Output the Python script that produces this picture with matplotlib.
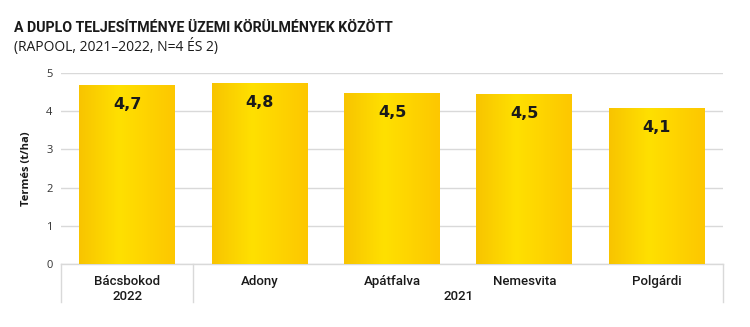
import matplotlib
matplotlib.use("Agg")
import matplotlib.pyplot as plt
import numpy as np
from matplotlib.colors import LinearSegmentedColormap

# Data
categories = ["Bácsbokod", "Adony", "Apátfalva", "Nemesvita", "Polgárdi"]
values = [4.69, 4.74, 4.48, 4.46, 4.08]
value_labels = ["4,7", "4,8", "4,5", "4,5", "4,1"]
groups = ["2022", "2021"]
group_sizes = [1, 4]
yticks = [0, 1, 2, 3, 4, 5]

title = "A DUPLO TELJESÍTMÉNYE ÜZEMI KÖRÜLMÉNYEK KÖZÖTT"
subtitle = "(RAPOOL, 2021–2022, N=4 ÉS 2)"
ylabel = "Termés (t/ha)"

fig = plt.figure(figsize=(7.5, 3.27), dpi=100)
ax = fig.add_axes([61/750, 1-264/327, (723-61)/750, (264-73)/327])

x = np.arange(len(categories))
bw = 0.725
bars = ax.bar(x, values, width=bw, color="#FFD800", zorder=2, linewidth=0)

cmap = LinearSegmentedColormap.from_list(
    "gold", [(0.0, "#F8C400"), (0.42, "#FFE000"), (1.0, "#FDC700")])
grad = np.linspace(0, 1, 256).reshape(1, -1)
for b in bars:
    x0 = b.get_x(); w = b.get_width(); h = b.get_height()
    im = ax.imshow(grad, cmap=cmap, aspect="auto",
                   extent=[x0, x0 + w, 0, h], zorder=3, interpolation="bicubic")
    im.set_clip_path(b)

for xi, v, lab in zip(x, values, value_labels):
    ax.annotate(lab, (xi, v), xytext=(0, -14), textcoords="offset points",
                ha="center", va="center", fontsize=11.5, fontweight="bold",
                color="#1a1a1a", zorder=5, family="DejaVu Sans")

ax.set_xlim(-0.5, len(categories) - 0.5)
ax.set_ylim(0, 5)
ax.set_yticks(yticks)
ax.set_yticklabels([str(t) for t in yticks], fontsize=8, color="#333333",
                   family="Open Sans")
ax.tick_params(axis="y", length=0, pad=6)
ax.set_xticks([])
ax.grid(axis="y", color="#d9d9d9", linewidth=1, zorder=0)
ax.set_axisbelow(True)
for s in ["top", "right", "left"]:
    ax.spines[s].set_visible(False)
ax.spines["bottom"].set_color("#d9d9d9")
ax.spines["bottom"].set_linewidth(1)

ax.set_ylabel(ylabel, fontsize=8, fontweight="bold", color="#1a1a1a",
              family="Open Sans")
ax.yaxis.set_label_coords(-0.044, 0.5)

# category labels and group labels
trans = ax.get_xaxis_transform()
for xi, c in zip(x, categories):
    ax.text(xi, -0.093, c, transform=trans, ha="center", va="center",
            fontsize=9.5, color="#1a1a1a", family="Roboto", fontweight="medium",
            clip_on=False)
start = 0
seps = [-0.5]
for g, n in zip(groups, group_sizes):
    center = start + (n - 1) / 2
    ax.text(center, -0.172, g, transform=trans, ha="center", va="center",
            fontsize=9.5, color="#1a1a1a", family="Roboto", fontweight="medium",
            clip_on=False)
    start += n
    seps.append(start - 0.5)
for s in seps:
    ax.plot([s, s], [0, -0.2], transform=trans, color="#d9d9d9",
            linewidth=1, clip_on=False)

fig.text(14/750, 1-28/327, title, fontsize=10.2, fontweight="bold",
         color="#1a1a1a", family="Roboto", va="center", ha="left")
fig.text(14/750, 1-47/327, subtitle, fontsize=10, color="#1a1a1a",
         family="Open Sans", va="center", ha="left")

fig.savefig("out.png", dpi=100)
